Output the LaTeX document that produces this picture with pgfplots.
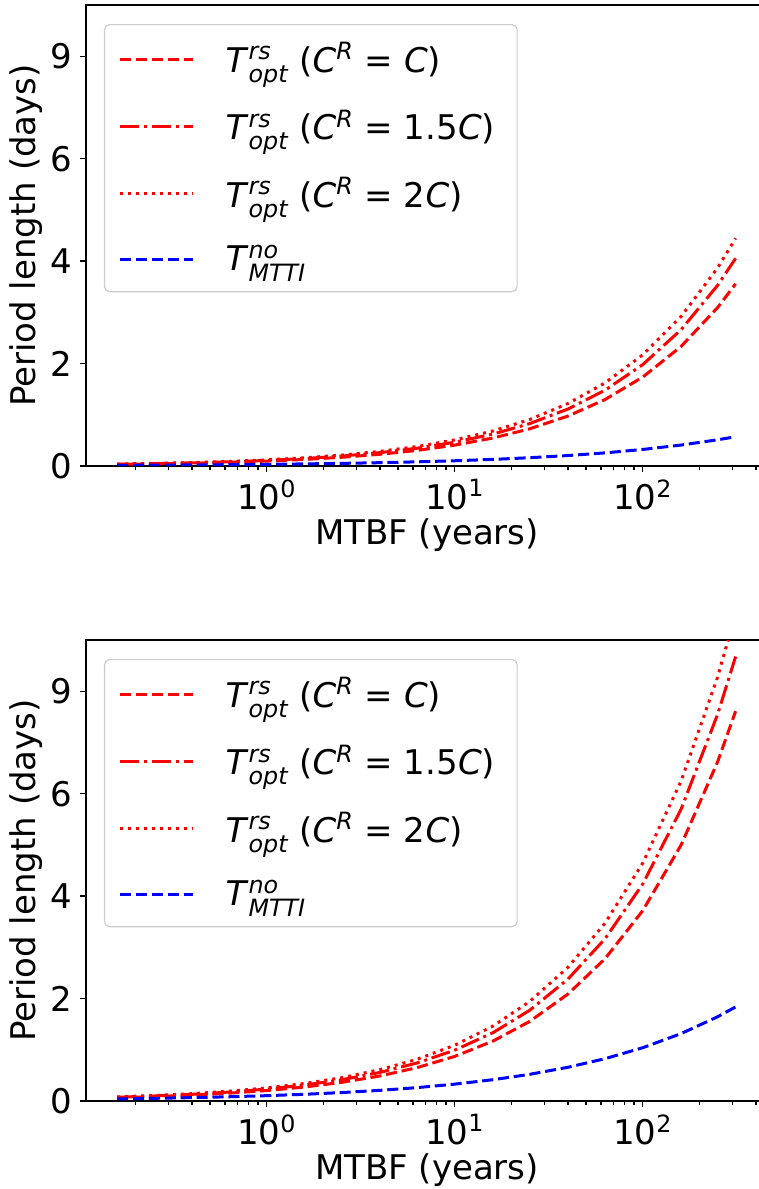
\documentclass[border=0pt]{standalone}
\usepackage{amsmath}
\usepackage{fontspec}
\setmainfont{DejaVu Sans}
\usepackage{pgfplots}
\usepackage{pgfplotstable}
\pgfplotsset{compat=1.18}

\pgfplotstableread{
x d1 d2 d3 b
0.16 0.0301 0.0343 0.0376 0.0129
0.25 0.0398 0.0454 0.0498 0.0162
0.4 0.0536 0.0611 0.0670 0.0204
0.63 0.0713 0.0813 0.0891 0.0256
1 0.0954 0.1088 0.1193 0.0323
1.6 0.1283 0.1463 0.1604 0.0409
2.5 0.1699 0.1937 0.2124 0.0511
4 0.2285 0.2605 0.2856 0.0646
6.3 0.3041 0.3467 0.3801 0.0811
10 0.407 0.464 0.509 0.1021
16 0.547 0.624 0.684 0.129
25 0.725 0.827 0.906 0.1615
40 0.975 1.112 1.219 0.204
63 1.297 1.479 1.621 0.256
100 1.736 1.979 2.170 0.323
160 2.334 2.661 2.918 0.409
250 3.092 3.525 3.865 0.511
312 3.556 4.054 4.445 0.571
}\topdata

\pgfplotstableread{
x d1 d2 d3 b
0.16 0.0643 0.0733 0.0804 0.0416
0.25 0.0853 0.0972 0.1066 0.052
0.4 0.1146 0.1306 0.1433 0.0658
0.63 0.1526 0.1740 0.1908 0.0826
1 0.2042 0.2328 0.2553 0.104
1.6 0.2746 0.3130 0.3433 0.1316
2.5 0.3637 0.4146 0.4546 0.1644
4 0.4891 0.5576 0.6114 0.208
6.3 0.651 0.742 0.814 0.261
10 0.871 0.993 1.089 0.329
16 1.171 1.335 1.464 0.416
25 1.552 1.769 1.940 0.520
40 2.087 2.379 2.609 0.658
63 2.777 3.166 3.471 0.826
100 3.716 4.236 4.645 1.040
160 4.997 5.697 6.246 1.316
250 6.618 7.545 8.273 1.644
312 7.611 8.677 9.514 1.837
}\botdata

\newcommand{\fs}{\fontsize{17}{20}\selectfont}
\newcommand{\Trs}{\textit{T}$^{\textit{rs}}_{\textit{opt}}$}

\tikzset{
  mydsh/.style={red, line width=1.5pt, dash pattern=on 5.55pt off 2.4pt},
  mydsd/.style={red, line width=1.5pt, dash pattern=on 9.6pt off 2.4pt on 1.5pt off 2.4pt},
  mydot/.style={red, line width=1.5pt, dash pattern=on 1.5pt off 2.5pt},
  myblu/.style={blue, line width=1.5pt, dash pattern=on 5.55pt off 2.4pt},
}

\begin{document}
\begin{tikzpicture}
\begin{axis}[at={(0,317.5pt)}, anchor=south west,
    width=341pt, height=230.5pt, scale only axis,
    xmode=log, xmin=0.1093, xmax=464, ymin=0, ymax=9,
    xtick={1,10,100},
    xticklabels={10\textsuperscript{0},10\textsuperscript{1},10\textsuperscript{2}},
    minor xtick={0.2,0.3,0.4,0.5,0.6,0.7,0.8,0.9,2,3,4,5,6,7,8,9,20,30,40,50,60,70,80,90,200,300,400},
    ytick={0,2,4,6,8}, yticklabels={0,2,4,6,9},
    tick align=outside, xtick pos=left, ytick pos=left,
    major tick length=3.2pt, minor tick length=1.8pt,
    every tick/.style={black, line width=0.7pt},
    axis line style={line width=0.75pt},
    tick label style={font=\fs},
    label style={font=\fs},
    xlabel={MTBF (years)}, ylabel={Period length (days)},
    ylabel style={at={(axis description cs:0,0.5)}, anchor=south, inner sep=0pt, yshift=21.5pt},
    xlabel style={at={(axis description cs:0.5,0)}, anchor=north, inner sep=0pt, yshift=-26pt},
    legend cell align=left,
    legend style={at={(rel axis cs:0,1)}, anchor=north west, xshift=9pt, yshift=-9.5pt,
      draw=black!20, line width=0.6pt, rounded corners=2.5pt, fill=white, fill opacity=0.8, text opacity=1,
      font=\fs, inner xsep=7pt, inner ysep=7pt, row sep=13.25pt, column sep=13.5pt},
    legend image code/.code={\draw[#1] (0pt,0pt) -- (36.5pt,0pt);},
  ]
\addplot[mydsh] table[x=x,y=d1] {\topdata};
\addlegendentry{\Trs\ (\textit{C}$^{\textit{R}}$ = \textit{C})}
\addplot[mydsd] table[x=x,y=d2] {\topdata};
\addlegendentry{\Trs\ (\textit{C}$^{\textit{R}}$ = 1.5\textit{C})\hspace*{2pt}}
\addplot[mydot] table[x=x,y=d3] {\topdata};
\addlegendentry{\Trs\ (\textit{C}$^{\textit{R}}$ = 2\textit{C})}
\addplot[myblu] table[x=x,y=b] {\topdata};
\addlegendentry{\textit{T}$^{\textit{no}}_{\textit{MTTI}}$\rule[-10.7pt]{0pt}{1pt}}
\end{axis}
\begin{axis}[at={(0,0)}, anchor=south west,
    width=341pt, height=230.5pt, scale only axis,
    xmode=log, xmin=0.1093, xmax=464, ymin=0, ymax=9,
    xtick={1,10,100},
    xticklabels={10\textsuperscript{0},10\textsuperscript{1},10\textsuperscript{2}},
    minor xtick={0.2,0.3,0.4,0.5,0.6,0.7,0.8,0.9,2,3,4,5,6,7,8,9,20,30,40,50,60,70,80,90,200,300,400},
    ytick={0,2,4,6,8}, yticklabels={0,2,4,6,9},
    tick align=outside, xtick pos=left, ytick pos=left,
    major tick length=3.2pt, minor tick length=1.8pt,
    every tick/.style={black, line width=0.7pt},
    axis line style={line width=0.75pt},
    tick label style={font=\fs},
    label style={font=\fs},
    xlabel={MTBF (years)}, ylabel={Period length (days)},
    ylabel style={at={(axis description cs:0,0.5)}, anchor=south, inner sep=0pt, yshift=21.5pt},
    xlabel style={at={(axis description cs:0.5,0)}, anchor=north, inner sep=0pt, yshift=-26pt},
    legend cell align=left,
    legend style={at={(rel axis cs:0,1)}, anchor=north west, xshift=9pt, yshift=-9.5pt,
      draw=black!20, line width=0.6pt, rounded corners=2.5pt, fill=white, fill opacity=0.8, text opacity=1,
      font=\fs, inner xsep=7pt, inner ysep=7pt, row sep=13.25pt, column sep=13.5pt},
    legend image code/.code={\draw[#1] (0pt,0pt) -- (36.5pt,0pt);},
  ]
\addplot[mydsh] table[x=x,y=d1] {\botdata};
\addlegendentry{\Trs\ (\textit{C}$^{\textit{R}}$ = \textit{C})}
\addplot[mydsd] table[x=x,y=d2] {\botdata};
\addlegendentry{\Trs\ (\textit{C}$^{\textit{R}}$ = 1.5\textit{C})\hspace*{2pt}}
\addplot[mydot] table[x=x,y=d3] {\botdata};
\addlegendentry{\Trs\ (\textit{C}$^{\textit{R}}$ = 2\textit{C})}
\addplot[myblu] table[x=x,y=b] {\botdata};
\addlegendentry{\textit{T}$^{\textit{no}}_{\textit{MTTI}}$\rule[-10.7pt]{0pt}{1pt}}
\end{axis}
\pgfresetboundingbox
\path[use as bounding box] (-43pt,-44pt) rectangle (336.5pt,550.5pt);
\end{tikzpicture}
\end{document}
